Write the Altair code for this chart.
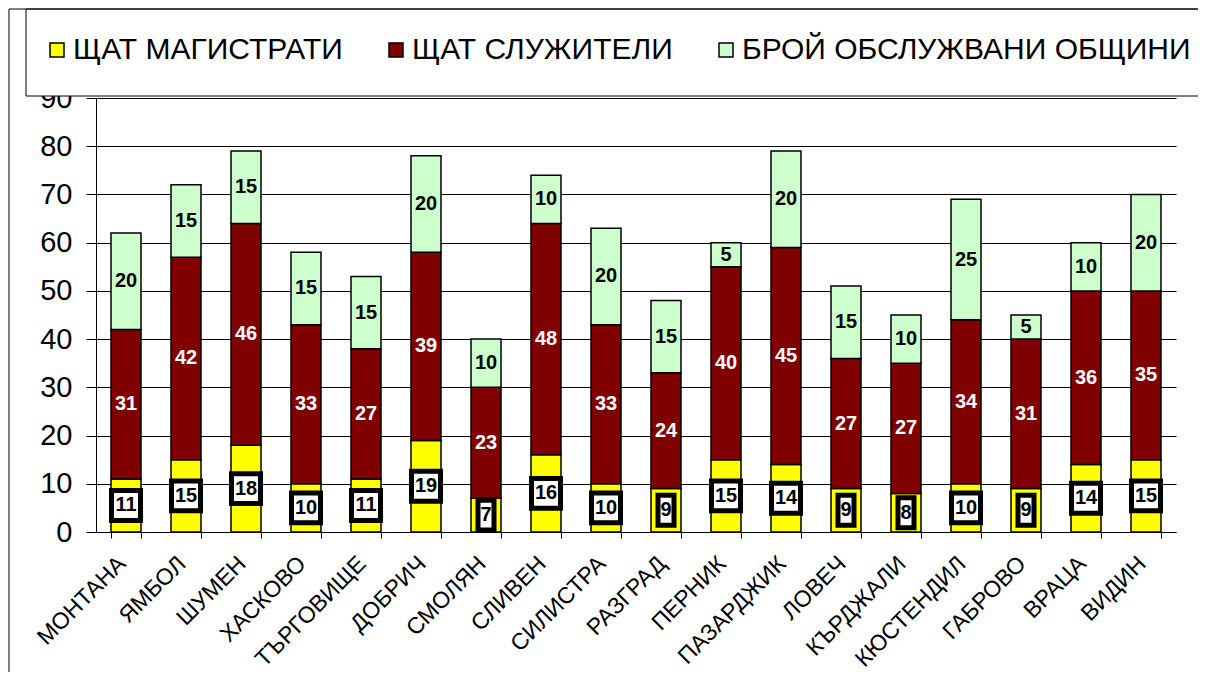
import altair as alt
import pandas as pd

cities = ["МОНТАНА", "ЯМБОЛ", "ШУМЕН", "ХАСКОВО", "ТЪРГОВИЩЕ", "ДОБРИЧ", "СМОЛЯН",
          "СЛИВЕН", "СИЛИСТРА", "РАЗГРАД", "ПЕРНИК", "ПАЗАРДЖИК", "ЛОВЕЧ", "КЪРДЖАЛИ",
          "КЮСТЕНДИЛ", "ГАБРОВО", "ВРАЦА", "ВИДИН"]
magistrates = [11, 15, 18, 10, 11, 19, 7, 16, 10, 9, 15, 14, 9, 8, 10, 9, 14, 15]
servants = [31, 42, 46, 33, 27, 39, 23, 48, 33, 24, 40, 45, 27, 27, 34, 31, 36, 35]
communities = [20, 15, 15, 15, 15, 20, 10, 10, 20, 15, 5, 20, 15, 10, 25, 5, 10, 20]

series_names = ["ЩАТ МАГИСТРАТИ", "ЩАТ СЛУЖИТЕЛИ", "БРОЙ ОБСЛУЖВАНИ ОБЩИНИ"]
series_colors = ["#FFFF00", "#800000", "#CCFFCC"]

FONT = "Liberation Sans"

rows = []
for i, c in enumerate(cities):
    base = 0
    for name, vals in zip(series_names, [magistrates, servants, communities]):
        v = vals[i]
        rows.append({"city": c, "series": name, "value": v,
                     "start": base, "end": base + v, "mid": base + v / 2})
        base += v
df = pd.DataFrame(rows)

df_serv = df[df.series == series_names[1]]
df_comm = df[df.series == series_names[2]]
df_mag = df[df.series == series_names[0]].copy()
df_mag["lo"] = df_mag["mid"] - 3.1
df_mag["hi"] = df_mag["mid"] + 3.1
df_mag["w"] = df_mag["value"].apply(lambda v: 29 if v >= 10 else 16)

xenc = alt.X("city:N", sort=cities, title=None,
             scale=alt.Scale(paddingInner=0.5, paddingOuter=0.25),
             axis=alt.Axis(labelAngle=-45, labelFont=FONT, labelFontSize=23,
                           labelColor="black", tickBand="extent", tickSize=6,
                           tickColor="black", domainColor="black", labelPadding=14,
                           labelOffset=-12, grid=False))

bars = alt.Chart(df).mark_bar(stroke="black", strokeWidth=1.5).encode(
    x=xenc,
    y=alt.Y("start:Q", title=None,
            scale=alt.Scale(domain=[0, 90], nice=False),
            axis=alt.Axis(values=list(range(0, 91, 10)), labelFont=FONT,
                          labelFontSize=29, labelColor="black", tickSize=10,
                          tickColor="black", domainColor="black", gridColor="black",
                          gridWidth=1, gridOpacity=1, labelPadding=14)),
    y2="end:Q",
    color=alt.Color("series:N", scale=alt.Scale(domain=series_names, range=series_colors),
                    legend=alt.Legend(title=None, orient="none", legendX=-54, legendY=-63,
                                      direction="horizontal", symbolType="square",
                                      symbolSize=196, symbolStrokeColor="black",
                                      symbolStrokeWidth=1.5, symbolOpacity=1,
                                      labelFont=FONT, labelFontSize=30, labelColor="black",
                                      labelOffset=1, columnPadding=38, padding=0,
                                      labelLimit=0)),
)

serv_text = alt.Chart(df_serv).mark_text(font=FONT, fontSize=20, fontWeight="bold",
                                         color="white").encode(
    x=alt.X("city:N", sort=cities), y="mid:Q", text="value:Q")

comm_text = alt.Chart(df_comm).mark_text(font=FONT, fontSize=20, fontWeight="bold",
                                         color="black").encode(
    x=alt.X("city:N", sort=cities), y="mid:Q", text="value:Q")

boxes = alt.Chart(df_mag).mark_bar(fill="white", stroke="black", strokeWidth=5).encode(
    x=alt.X("city:N", sort=cities), y="lo:Q", y2="hi:Q",
    size=alt.Size("w:Q", scale=None, legend=None))

mag_text = alt.Chart(df_mag).mark_text(font=FONT, fontSize=20, fontWeight="bold",
                                       color="black").encode(
    x=alt.X("city:N", sort=cities), y="mid:Q", text="value:Q")

frame_df = pd.DataFrame({"k": [0]})
legend_box = alt.Chart(frame_df).mark_rect(fill="white", stroke="black", strokeWidth=1).encode(
    x=alt.value(-70), x2=alt.value(1130), y=alt.value(-89), y2=alt.value(-2))
left_line = alt.Chart(frame_df).mark_rule(color="black", strokeWidth=1).encode(
    x=alt.value(-87), y=alt.value(-89), y2=alt.value(600))
top_line = alt.Chart(frame_df).mark_rule(color="black", strokeWidth=1).encode(
    x=alt.value(-87), x2=alt.value(1110), y=alt.value(-89))

chart = alt.layer(bars, serv_text, comm_text, boxes, mag_text, legend_box,
                  left_line, top_line).properties(
    width=1080, height=434,
    autosize=alt.AutoSizeParams(type="none"),
    padding={"left": 88, "top": 90, "right": 22, "bottom": 140},
    background="white",
).configure_view(stroke=None)

chart.save("out.html", embed_options={"renderer": "svg", "actions": False})
